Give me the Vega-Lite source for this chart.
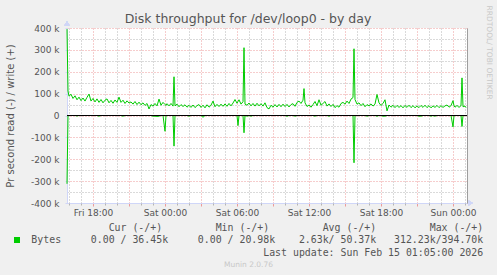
{
  "$schema": "https://vega.github.io/schema/vega-lite/v6.json",
  "width": 400,
  "height": 175,
  "autosize": {"type": "none"},
  "padding": {"left": 67, "top": 28, "right": 30, "bottom": 72},
  "background": "#f0f0f0",
  "view": {"fill": "#ffffff", "stroke": null},
  "config": {"font": "DejaVu Sans"},
  "title": {"text": "Disk throughput for /dev/loop0 - by day", "font": "DejaVu Sans", "fontSize": 12.5, "fontWeight": "normal", "color": "#555555", "frame": "group", "anchor": "middle", "dx": -19, "dy": 35, "baseline": "alphabetic", "offset": 4.7},
  "data": {"values": [
    {"t":"2026-02-13T15:50","w":394700,"r":-312230},
    {"t":"2026-02-13T15:55","w":112000,"r":0},
    {"t":"2026-02-13T16:00","w":88000,"r":0},
    {"t":"2026-02-13T16:10","w":97000,"r":0},
    {"t":"2026-02-13T16:20","w":78000,"r":0},
    {"t":"2026-02-13T16:30","w":90000,"r":0},
    {"t":"2026-02-13T16:40","w":72000,"r":-2000},
    {"t":"2026-02-13T16:50","w":84000,"r":0},
    {"t":"2026-02-13T17:00","w":68000,"r":0},
    {"t":"2026-02-13T17:10","w":80000,"r":0},
    {"t":"2026-02-13T17:20","w":66000,"r":0},
    {"t":"2026-02-13T17:30","w":83000,"r":0},
    {"t":"2026-02-13T17:40","w":98000,"r":0},
    {"t":"2026-02-13T17:50","w":66000,"r":0},
    {"t":"2026-02-13T18:00","w":78000,"r":0},
    {"t":"2026-02-13T18:10","w":62000,"r":0},
    {"t":"2026-02-13T18:20","w":76000,"r":0},
    {"t":"2026-02-13T18:30","w":60000,"r":-3000},
    {"t":"2026-02-13T18:40","w":73000,"r":0},
    {"t":"2026-02-13T18:50","w":58000,"r":0},
    {"t":"2026-02-13T19:00","w":70000,"r":0},
    {"t":"2026-02-13T19:10","w":76000,"r":0},
    {"t":"2026-02-13T19:20","w":58000,"r":0},
    {"t":"2026-02-13T19:30","w":69000,"r":0},
    {"t":"2026-02-13T19:40","w":56000,"r":0},
    {"t":"2026-02-13T19:50","w":71000,"r":0},
    {"t":"2026-02-13T20:00","w":60000,"r":0},
    {"t":"2026-02-13T20:10","w":84000,"r":0},
    {"t":"2026-02-13T20:20","w":60000,"r":0},
    {"t":"2026-02-13T20:30","w":70000,"r":-3000},
    {"t":"2026-02-13T20:40","w":55000,"r":0},
    {"t":"2026-02-13T20:50","w":67000,"r":0},
    {"t":"2026-02-13T21:00","w":57000,"r":0},
    {"t":"2026-02-13T21:10","w":62000,"r":0},
    {"t":"2026-02-13T21:20","w":52000,"r":0},
    {"t":"2026-02-13T21:30","w":64000,"r":0},
    {"t":"2026-02-13T21:40","w":50000,"r":0},
    {"t":"2026-02-13T21:50","w":61000,"r":0},
    {"t":"2026-02-13T22:00","w":49000,"r":0},
    {"t":"2026-02-13T22:10","w":58000,"r":0},
    {"t":"2026-02-13T22:20","w":46000,"r":0},
    {"t":"2026-02-13T22:30","w":55000,"r":0},
    {"t":"2026-02-13T22:40","w":30000,"r":0},
    {"t":"2026-02-13T22:50","w":50000,"r":0},
    {"t":"2026-02-13T23:00","w":43000,"r":-3000},
    {"t":"2026-02-13T23:10","w":55000,"r":-3000},
    {"t":"2026-02-13T23:20","w":44000,"r":-4000},
    {"t":"2026-02-13T23:30","w":75000,"r":-3000},
    {"t":"2026-02-13T23:40","w":47000,"r":0},
    {"t":"2026-02-13T23:50","w":60000,"r":0},
    {"t":"2026-02-14T00:00","w":50000,"r":-72000},
    {"t":"2026-02-14T00:05","w":46000,"r":0},
    {"t":"2026-02-14T00:10","w":54000,"r":0},
    {"t":"2026-02-14T00:20","w":44000,"r":0},
    {"t":"2026-02-14T00:30","w":55000,"r":0},
    {"t":"2026-02-14T00:40","w":43000,"r":0},
    {"t":"2026-02-14T00:45","w":177000,"r":-140000},
    {"t":"2026-02-14T00:50","w":44000,"r":0},
    {"t":"2026-02-14T01:00","w":52000,"r":0},
    {"t":"2026-02-14T01:10","w":40000,"r":0},
    {"t":"2026-02-14T01:20","w":50000,"r":0},
    {"t":"2026-02-14T01:30","w":41000,"r":0},
    {"t":"2026-02-14T01:40","w":49000,"r":0},
    {"t":"2026-02-14T01:50","w":38000,"r":0},
    {"t":"2026-02-14T02:00","w":47000,"r":-3000},
    {"t":"2026-02-14T02:10","w":37000,"r":0},
    {"t":"2026-02-14T02:20","w":48000,"r":0},
    {"t":"2026-02-14T02:30","w":36000,"r":0},
    {"t":"2026-02-14T02:40","w":45000,"r":0},
    {"t":"2026-02-14T02:50","w":50000,"r":0},
    {"t":"2026-02-14T03:00","w":37000,"r":0},
    {"t":"2026-02-14T03:10","w":47000,"r":-8000},
    {"t":"2026-02-14T03:20","w":35000,"r":0},
    {"t":"2026-02-14T03:30","w":49000,"r":0},
    {"t":"2026-02-14T03:40","w":38000,"r":0},
    {"t":"2026-02-14T03:50","w":47000,"r":0},
    {"t":"2026-02-14T04:00","w":66000,"r":0},
    {"t":"2026-02-14T04:10","w":40000,"r":0},
    {"t":"2026-02-14T04:20","w":51000,"r":0},
    {"t":"2026-02-14T04:30","w":41000,"r":0},
    {"t":"2026-02-14T04:40","w":52000,"r":0},
    {"t":"2026-02-14T04:50","w":42000,"r":0},
    {"t":"2026-02-14T05:00","w":53000,"r":0},
    {"t":"2026-02-14T05:10","w":42000,"r":0},
    {"t":"2026-02-14T05:20","w":55000,"r":0},
    {"t":"2026-02-14T05:30","w":44000,"r":0},
    {"t":"2026-02-14T05:40","w":57000,"r":0},
    {"t":"2026-02-14T05:50","w":73000,"r":0},
    {"t":"2026-02-14T06:00","w":56000,"r":0},
    {"t":"2026-02-14T06:05","w":64000,"r":-46000},
    {"t":"2026-02-14T06:10","w":72000,"r":0},
    {"t":"2026-02-14T06:20","w":52000,"r":0},
    {"t":"2026-02-14T06:30","w":63000,"r":0},
    {"t":"2026-02-14T06:35","w":310000,"r":-79000},
    {"t":"2026-02-14T06:40","w":52000,"r":0},
    {"t":"2026-02-14T06:50","w":47000,"r":-3000},
    {"t":"2026-02-14T07:00","w":57000,"r":0},
    {"t":"2026-02-14T07:10","w":44000,"r":-3000},
    {"t":"2026-02-14T07:20","w":55000,"r":0},
    {"t":"2026-02-14T07:30","w":43000,"r":0},
    {"t":"2026-02-14T07:40","w":56000,"r":0},
    {"t":"2026-02-14T07:50","w":44000,"r":0},
    {"t":"2026-02-14T08:00","w":54000,"r":0},
    {"t":"2026-02-14T08:10","w":43000,"r":0},
    {"t":"2026-02-14T08:20","w":58000,"r":0},
    {"t":"2026-02-14T08:30","w":36000,"r":0},
    {"t":"2026-02-14T08:40","w":30000,"r":0},
    {"t":"2026-02-14T08:50","w":47000,"r":0},
    {"t":"2026-02-14T09:00","w":38000,"r":0},
    {"t":"2026-02-14T09:10","w":50000,"r":0},
    {"t":"2026-02-14T09:20","w":39000,"r":0},
    {"t":"2026-02-14T09:30","w":51000,"r":0},
    {"t":"2026-02-14T09:40","w":40000,"r":0},
    {"t":"2026-02-14T09:50","w":52000,"r":0},
    {"t":"2026-02-14T10:00","w":41000,"r":0},
    {"t":"2026-02-14T10:10","w":51000,"r":-3000},
    {"t":"2026-02-14T10:20","w":39000,"r":0},
    {"t":"2026-02-14T10:30","w":50000,"r":0},
    {"t":"2026-02-14T10:40","w":54000,"r":0},
    {"t":"2026-02-14T10:50","w":42000,"r":-3000},
    {"t":"2026-02-14T11:00","w":60000,"r":0},
    {"t":"2026-02-14T11:10","w":66000,"r":0},
    {"t":"2026-02-14T11:20","w":55000,"r":0},
    {"t":"2026-02-14T11:30","w":70000,"r":0},
    {"t":"2026-02-14T11:35","w":123000,"r":0},
    {"t":"2026-02-14T11:40","w":58000,"r":0},
    {"t":"2026-02-14T11:50","w":41000,"r":0},
    {"t":"2026-02-14T12:00","w":48000,"r":0},
    {"t":"2026-02-14T12:10","w":38000,"r":0},
    {"t":"2026-02-14T12:20","w":50000,"r":0},
    {"t":"2026-02-14T12:30","w":64000,"r":-3000},
    {"t":"2026-02-14T12:40","w":45000,"r":0},
    {"t":"2026-02-14T12:50","w":72000,"r":0},
    {"t":"2026-02-14T13:00","w":47000,"r":0},
    {"t":"2026-02-14T13:10","w":55000,"r":0},
    {"t":"2026-02-14T13:20","w":64000,"r":0},
    {"t":"2026-02-14T13:30","w":43000,"r":0},
    {"t":"2026-02-14T13:40","w":53000,"r":-3000},
    {"t":"2026-02-14T13:50","w":41000,"r":0},
    {"t":"2026-02-14T14:00","w":51000,"r":0},
    {"t":"2026-02-14T14:10","w":36000,"r":0},
    {"t":"2026-02-14T14:20","w":45000,"r":0},
    {"t":"2026-02-14T14:30","w":38000,"r":0},
    {"t":"2026-02-14T14:40","w":55000,"r":0},
    {"t":"2026-02-14T14:50","w":60000,"r":0},
    {"t":"2026-02-14T15:00","w":52000,"r":0},
    {"t":"2026-02-14T15:10","w":66000,"r":0},
    {"t":"2026-02-14T15:20","w":55000,"r":0},
    {"t":"2026-02-14T15:30","w":75000,"r":0},
    {"t":"2026-02-14T15:40","w":82000,"r":0},
    {"t":"2026-02-14T15:45","w":305000,"r":-216000},
    {"t":"2026-02-14T15:50","w":73000,"r":0},
    {"t":"2026-02-14T16:00","w":52000,"r":0},
    {"t":"2026-02-14T16:10","w":58000,"r":0},
    {"t":"2026-02-14T16:20","w":45000,"r":0},
    {"t":"2026-02-14T16:30","w":55000,"r":0},
    {"t":"2026-02-14T16:40","w":40000,"r":0},
    {"t":"2026-02-14T16:50","w":50000,"r":-3000},
    {"t":"2026-02-14T17:00","w":44000,"r":0},
    {"t":"2026-02-14T17:10","w":53000,"r":0},
    {"t":"2026-02-14T17:20","w":43000,"r":0},
    {"t":"2026-02-14T17:30","w":52000,"r":0},
    {"t":"2026-02-14T17:40","w":96000,"r":-3000},
    {"t":"2026-02-14T17:50","w":58000,"r":0},
    {"t":"2026-02-14T18:00","w":46000,"r":0},
    {"t":"2026-02-14T18:10","w":55000,"r":-3000},
    {"t":"2026-02-14T18:20","w":72000,"r":-3000},
    {"t":"2026-02-14T18:30","w":21000,"r":0},
    {"t":"2026-02-14T18:40","w":48000,"r":0},
    {"t":"2026-02-14T18:50","w":38000,"r":0},
    {"t":"2026-02-14T19:00","w":47000,"r":0},
    {"t":"2026-02-14T19:10","w":36000,"r":0},
    {"t":"2026-02-14T19:20","w":46000,"r":0},
    {"t":"2026-02-14T19:30","w":37000,"r":0},
    {"t":"2026-02-14T19:40","w":45000,"r":0},
    {"t":"2026-02-14T19:50","w":35000,"r":0},
    {"t":"2026-02-14T20:00","w":46000,"r":0},
    {"t":"2026-02-14T20:10","w":37000,"r":0},
    {"t":"2026-02-14T20:20","w":47000,"r":0},
    {"t":"2026-02-14T20:30","w":36000,"r":0},
    {"t":"2026-02-14T20:40","w":45000,"r":0},
    {"t":"2026-02-14T20:50","w":35000,"r":0},
    {"t":"2026-02-14T21:00","w":44000,"r":0},
    {"t":"2026-02-14T21:10","w":36000,"r":-3000},
    {"t":"2026-02-14T21:20","w":46000,"r":-3000},
    {"t":"2026-02-14T21:30","w":37000,"r":0},
    {"t":"2026-02-14T21:40","w":47000,"r":0},
    {"t":"2026-02-14T21:50","w":36000,"r":0},
    {"t":"2026-02-14T22:00","w":45000,"r":0},
    {"t":"2026-02-14T22:10","w":35000,"r":-3000},
    {"t":"2026-02-14T22:20","w":44000,"r":0},
    {"t":"2026-02-14T22:30","w":37000,"r":-3000},
    {"t":"2026-02-14T22:40","w":46000,"r":0},
    {"t":"2026-02-14T22:50","w":36000,"r":0},
    {"t":"2026-02-14T23:00","w":45000,"r":0},
    {"t":"2026-02-14T23:10","w":37000,"r":0},
    {"t":"2026-02-14T23:20","w":44000,"r":0},
    {"t":"2026-02-14T23:30","w":48000,"r":0},
    {"t":"2026-02-14T23:40","w":38000,"r":0},
    {"t":"2026-02-14T23:50","w":45000,"r":0},
    {"t":"2026-02-15T00:00","w":68000,"r":-52000},
    {"t":"2026-02-15T00:05","w":44000,"r":0},
    {"t":"2026-02-15T00:10","w":38000,"r":0},
    {"t":"2026-02-15T00:20","w":46000,"r":0},
    {"t":"2026-02-15T00:30","w":37000,"r":0},
    {"t":"2026-02-15T00:40","w":45000,"r":0},
    {"t":"2026-02-15T00:45","w":172000,"r":-50000},
    {"t":"2026-02-15T00:50","w":40000,"r":0},
    {"t":"2026-02-15T01:00","w":43000,"r":0},
    {"t":"2026-02-15T01:05","w":36450,"r":0}
  ]},
  "layer": [
    {
      "mark": {"type": "line", "strokeWidth": 1},
      "encoding": {
        "x": {
          "field": "t", "type": "temporal",
          "scale": {"domain": [{"year": 2026, "month": 2, "date": 13, "hours": 15, "minutes": 50}, {"year": 2026, "month": 2, "date": 15, "hours": 1, "minutes": 10}]},
          "axis": {
            "orient": "bottom",
            "values": [
              {"year": 2026, "month": 2, "date": 13, "hours": 18}, {"year": 2026, "month": 2, "date": 13, "hours": 21},
              {"year": 2026, "month": 2, "date": 14, "hours": 0}, {"year": 2026, "month": 2, "date": 14, "hours": 3},
              {"year": 2026, "month": 2, "date": 14, "hours": 6}, {"year": 2026, "month": 2, "date": 14, "hours": 9},
              {"year": 2026, "month": 2, "date": 14, "hours": 12}, {"year": 2026, "month": 2, "date": 14, "hours": 15},
              {"year": 2026, "month": 2, "date": 14, "hours": 18}, {"year": 2026, "month": 2, "date": 14, "hours": 21},
              {"year": 2026, "month": 2, "date": 15, "hours": 0}
            ],
            "grid": true, "gridColor": "#ec9a9a", "gridOpacity": 1, "gridDash": [1, 2],
            "ticks": true, "tickColor": "#ec9a9a", "tickSize": 3,
            "domain": true, "domainColor": "#CFD6F8",
            "labelExpr": "hours(datum.value) % 6 == 0 ? timeFormat(datum.value, '%a %H:%M') : ''",
            "labelFont": "DejaVu Sans", "labelFontSize": 9, "labelColor": "#555555",
            "labelBaseline": "alphabetic", "labelPadding": 9, "labelFlush": false, "labelOverlap": false,
            "title": [
              "Cur\u00a0(-/+)\u00a0\u00a0\u00a0\u00a0\u00a0\u00a0\u00a0\u00a0\u00a0Min\u00a0(-/+)\u00a0\u00a0\u00a0\u00a0\u00a0\u00a0\u00a0\u00a0\u00a0Avg\u00a0(-/+)\u00a0\u00a0\u00a0\u00a0\u00a0\u00a0\u00a0\u00a0\u00a0Max\u00a0(-/+)\u00a0",
              "Bytes\u00a0\u00a0\u00a0\u00a0\u00a00.00\u00a0/\u00a036.45k\u00a0\u00a0\u00a0\u00a0\u00a00.00\u00a0/\u00a020.98k\u00a0\u00a0\u00a0\u00a02.63k/\u00a050.37k\u00a0\u00a0\u00a0312.23k/394.70k",
              "Last\u00a0update:\u00a0Sun\u00a0Feb\u00a015\u00a001:05:00\u00a02026"
            ],
            "titleFont": "DejaVu Sans Mono", "titleFontSize": 9.9, "titleFontWeight": "normal", "titleColor": "#555555",
            "titleX": 415.7, "titleY": 27.3, "titleAlign": "right", "titleBaseline": "alphabetic", "titleLineHeight": 12.4
          }
        },
        "y": {
          "field": "w", "type": "quantitative",
          "scale": {"domain": [-400000, 400000], "nice": false, "zero": false},
          "axis": {
            "orient": "left",
            "values": [-400000, -300000, -200000, -100000, 0, 100000, 200000, 300000, 400000],
            "grid": true, "gridColor": "#ec9a9a", "gridOpacity": 1, "gridDash": [1, 2],
            "ticks": true, "tickColor": "#CFD6F8", "tickSize": 2,
            "domain": true, "domainColor": "#CFD6F8",
            "labelExpr": "datum.value == 0 ? '0' : (datum.value / 1000) + ' k'",
            "labelFont": "DejaVu Sans", "labelFontSize": 9, "labelColor": "#555555", "labelPadding": 6,
            "title": "Pr second read (-) / write (+)",
            "titleFont": "DejaVu Sans", "titleFontSize": 10, "titleFontWeight": "normal", "titleColor": "#555555",
            "titleX": -57, "titleY": 87.5, "titleAngle": 270, "titleAlign": "center", "titleBaseline": "middle"
          }
        },
        "color": {
          "datum": "Bytes",
          "scale": {"range": ["#00cc00"]},
          "legend": {
            "orient": "none", "legendX": -53, "legendY": 209, "title": null,
            "symbolType": "square", "symbolSize": 36, "symbolFillColor": "#00cc00", "symbolStrokeColor": "#00cc00",
            "symbolStrokeWidth": 0, "symbolOpacity": 1, "labelExpr": "''", "labelFontSize": 6, "padding": 0
          }
        }
      }
    },
    {
      "mark": {"type": "line", "strokeWidth": 1, "color": "#00cc00"},
      "encoding": {
        "x": {
          "field": "t", "type": "temporal",
          "axis": {
            "orient": "bottom",
            "values": [
              {"year": 2026, "month": 2, "date": 13, "hours": 16}, {"year": 2026, "month": 2, "date": 13, "hours": 17},
              {"year": 2026, "month": 2, "date": 13, "hours": 19}, {"year": 2026, "month": 2, "date": 13, "hours": 20},
              {"year": 2026, "month": 2, "date": 13, "hours": 22}, {"year": 2026, "month": 2, "date": 13, "hours": 23},
              {"year": 2026, "month": 2, "date": 14, "hours": 1}, {"year": 2026, "month": 2, "date": 14, "hours": 2},
              {"year": 2026, "month": 2, "date": 14, "hours": 4}, {"year": 2026, "month": 2, "date": 14, "hours": 5},
              {"year": 2026, "month": 2, "date": 14, "hours": 7}, {"year": 2026, "month": 2, "date": 14, "hours": 8},
              {"year": 2026, "month": 2, "date": 14, "hours": 10}, {"year": 2026, "month": 2, "date": 14, "hours": 11},
              {"year": 2026, "month": 2, "date": 14, "hours": 13}, {"year": 2026, "month": 2, "date": 14, "hours": 14},
              {"year": 2026, "month": 2, "date": 14, "hours": 16}, {"year": 2026, "month": 2, "date": 14, "hours": 17},
              {"year": 2026, "month": 2, "date": 14, "hours": 19}, {"year": 2026, "month": 2, "date": 14, "hours": 20},
              {"year": 2026, "month": 2, "date": 14, "hours": 22}, {"year": 2026, "month": 2, "date": 14, "hours": 23},
              {"year": 2026, "month": 2, "date": 15, "hours": 1}
            ],
            "grid": true, "gridColor": "#b4b4b4", "gridOpacity": 1, "gridDash": [1, 2],
            "ticks": true, "tickColor": "#b4b4b4", "tickSize": 2,
            "domain": false, "labels": false,
            "title": "Munin 2.0.76",
            "titleFont": "DejaVu Sans", "titleFontSize": 7.5, "titleFontWeight": "normal", "titleColor": "#c8c8c8",
            "titleX": 181, "titleY": 63.5, "titleAlign": "center", "titleBaseline": "alphabetic"
          }
        },
        "y": {
          "field": "r", "type": "quantitative",
          "axis": {
            "orient": "left",
            "values": [-350000, -250000, -150000, -50000, 50000, 150000, 250000, 350000],
            "grid": true, "gridColor": "#b4b4b4", "gridOpacity": 1, "gridDash": [1, 2],
            "ticks": false, "domain": false, "labels": false, "title": null
          }
        }
      }
    },
    {
      "mark": {"type": "rule", "color": "#000000", "strokeWidth": 1.2},
      "encoding": {
        "y": {
          "datum": 0, "type": "quantitative",
          "axis": {
            "orient": "right", "values": [], "grid": false, "ticks": false, "labels": false,
            "domain": true, "domainColor": "#9e9e9e",
            "title": "RRDTOOL/ TOBI OETIKER",
            "titleFont": "DejaVu Sans", "titleFontSize": 7.5, "titleFontWeight": "normal", "titleColor": "#c8c8c8",
            "titleAngle": 90, "titleX": 21, "titleY": -23, "titleAlign": "left", "titleBaseline": "middle"
          }
        }
      }
    },
    {
      "mark": {"type": "point", "shape": "triangle-up", "filled": true, "color": "#CFD6F8", "size": 25, "opacity": 1, "clip": false},
      "encoding": {
        "x": {"datum": {"year": 2026, "month": 2, "date": 13, "hours": 15, "minutes": 50}, "type": "temporal", "axis": null},
        "y": {"datum": 421000, "type": "quantitative", "axis": null}
      }
    },
    {
      "mark": {"type": "point", "shape": "triangle-right", "filled": true, "color": "#CFD6F8", "size": 25, "opacity": 1, "clip": false},
      "encoding": {
        "x": {"datum": {"year": 2026, "month": 2, "date": 15, "hours": 1, "minutes": 28}, "type": "temporal", "axis": null},
        "y": {"datum": -400000, "type": "quantitative", "axis": null}
      }
    }
  ],
  "resolve": {"axis": {"x": "independent", "y": "independent"}}
}
